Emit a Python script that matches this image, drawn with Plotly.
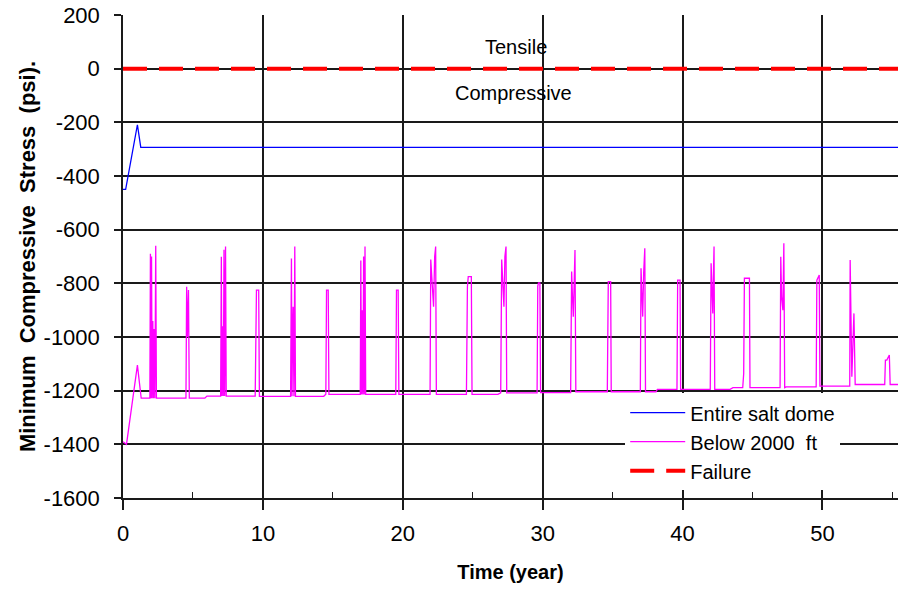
import plotly.graph_objects as go

# ---- data ----
blue_t = [0.0, 0.19, 1.03, 1.27, 55.4]
blue_v = [-450, -450, -209, -293, -293]

mag_t = [
    0.0, 0.25, 1.03, 1.3,
    1.92, 1.96, 2.0, 2.04, 2.08, 2.13, 2.18, 2.23, 2.28, 2.34, 2.39,
    4.5, 4.55, 4.6, 4.68, 4.74,
    5.85, 6.0,
    6.98, 7.03, 7.07, 7.12, 7.17, 7.22, 7.27, 7.33, 7.38,
    9.45, 9.54, 9.7, 9.75,
    11.98, 12.04, 12.08, 12.12, 12.16, 12.22, 12.28, 12.33,
    14.35, 14.5, 14.55, 14.67, 14.72,
    16.96, 17.0, 17.05, 17.1, 17.15, 17.2, 17.25, 17.3, 17.35,
    19.5, 19.55, 19.67, 19.72,
    21.95, 22.0, 22.1, 22.2, 22.28, 22.35, 22.4,
    24.55, 24.62, 24.68, 24.9, 24.95,
    26.8, 27.0, 27.07, 27.15, 27.23, 27.3, 27.38, 27.43,
    29.6, 29.65, 29.7, 29.8, 29.85,
    32.0, 32.07, 32.13, 32.19, 32.25, 32.31, 32.37,
    34.62, 34.69, 34.86, 34.9,
    36.98, 37.03, 37.09, 37.15, 37.22, 37.3, 37.35,
    38.1, 38.2,
    39.6, 39.65, 39.82, 39.86,
    41.98, 42.04, 42.1, 42.16, 42.21, 42.25, 42.3,
    43.4, 43.6, 44.3, 44.37, 44.42, 44.78, 44.82,
    46.97, 47.02, 47.08, 47.17, 47.24, 47.3, 47.4,
    49.55, 49.6, 49.68, 49.77, 49.82,
    51.95, 51.98, 52.1, 52.25, 52.34,
    54.45, 54.5, 54.6, 54.7, 54.78, 54.84, 55.4,
]
mag_v = [
    -1390, -1400, -1105, -1228,
    -1228, -690, -1228, -700, -1228, -940, -1228, -970, -1228, -660, -1228,
    -1228, -813, -1000, -825, -1228,
    -1228, -1220,
    -1220, -701, -1220, -960, -1220, -675, -1220, -663, -1220,
    -1220, -825, -825, -1221,
    -1221, -707, -1221, -1000, -887, -1221, -663, -1221,
    -1221, -1213, -825, -825, -1214,
    -1214, -715, -1214, -900, -1214, -700, -1214, -663, -1214,
    -1214, -825, -825, -1214,
    -1214, -711, -800, -887, -700, -663, -1214,
    -1214, -813, -775, -775, -1214,
    -1214, -1208, -711, -800, -887, -700, -663, -1208,
    -1208, -810, -798, -798, -1207,
    -1207, -756, -850, -924, -800, -676, -1204,
    -1204, -794, -794, -1204,
    -1204, -744, -850, -924, -760, -669, -1204,
    -1204, -1195,
    -1195, -788, -788, -1195,
    -1195, -725, -850, -912, -760, -663, -1195,
    -1195, -1189, -1189, -1136, -781, -781, -1189,
    -1189, -701, -850, -900, -651, -1189, -1186,
    -1186, -788, -780, -769, -1183,
    -1183, -713, -1148, -912, -1177,
    -1177, -1086, -1086, -1075, -1067, -1177, -1177,
]

fail_t = [0.0, 55.4]
fail_v = [0, 0]

series_names = ["Entire salt dome", "Below 2000  ft", "Failure"]
x_range = [0, 55.4]
y_range = [-1600, 200]
x_ticks = [0, 10, 20, 30, 40, 50]
y_ticks = [200, 0, -200, -400, -600, -800, -1000, -1200, -1400, -1600]
y_tick_labels = ["200", "0", "-200", "-400", "-600", "-800", "-1000", "-1200", "-1400", "-1600"]

FONT = "Liberation Sans, Arial, sans-serif"

fig = go.Figure()
fig.add_trace(go.Scatter(x=blue_t, y=blue_v, mode="lines", name=series_names[0],
                         line=dict(color="#0000ff", width=1.3)))
fig.add_trace(go.Scatter(x=mag_t, y=mag_v, mode="lines", name=series_names[1],
                         line=dict(color="#ff00ff", width=1.3)))
fig.add_trace(go.Scatter(x=fail_t, y=fail_v, mode="lines", name=series_names[2],
                         xaxis="x2",
                         line=dict(color="#ff0000", width=4, dash="24px,12px")))

grid_col = "#1a1a1a"
fig.update_layout(
    width=898, height=590,
    margin=dict(l=123, r=0, t=15, b=92),
    paper_bgcolor="white", plot_bgcolor="white",
    font=dict(family=FONT, color="black"),
    showlegend=True,
    legend=dict(x=0.648, y=0.217, xanchor="left", yanchor="top",
                bgcolor="white", borderwidth=0,
                font=dict(size=20, family=FONT), itemwidth=55,
                tracegroupgap=0),
    xaxis=dict(range=x_range, tickvals=x_ticks, showgrid=True,
               gridcolor=grid_col, gridwidth=1.5, zeroline=False,
               showline=True, linecolor=grid_col, linewidth=1.5,
               ticks="outside", ticklen=10, tickwidth=1.5, tickcolor=grid_col,
               tickfont=dict(size=22), ticklabelstandoff=5,
               title=dict(text="<b>Time (year)</b>", font=dict(size=20), standoff=20)),
    xaxis2=dict(range=x_range, overlaying="x", anchor="y", side="bottom",
                showgrid=False, zeroline=False, showline=False,
                showticklabels=False, tickvals=x_ticks,
                ticks="inside", ticklen=8, tickwidth=1.5, tickcolor=grid_col,
                minor=dict(ticks="inside", ticklen=6, tickwidth=1.2,
                           tickcolor=grid_col, dtick=5, tick0=0)),
    yaxis=dict(range=y_range, tickvals=y_ticks, ticktext=y_tick_labels, showgrid=True,
               gridcolor=grid_col, gridwidth=1.5, zeroline=False,
               showline=True, linecolor=grid_col, linewidth=1.5,
               ticks="outside", ticklen=7, tickwidth=1.5, tickcolor=grid_col,
               tickfont=dict(size=22), ticklabelstandoff=10,
               title=dict(text="<b>Minimum\u00a0 Compressive\u00a0 Stress\u00a0 (psi).</b>",
                          font=dict(size=22), standoff=2)),
    annotations=[
        dict(x=28.1, y=81, xref="x", yref="y", text="Tensile", showarrow=False,
             font=dict(size=20, family=FONT)),
        dict(x=27.9, y=-91, xref="x", yref="y", text="Compressive", showarrow=False,
             font=dict(size=20, family=FONT)),
    ],
)

fig.write_html("out.html")
